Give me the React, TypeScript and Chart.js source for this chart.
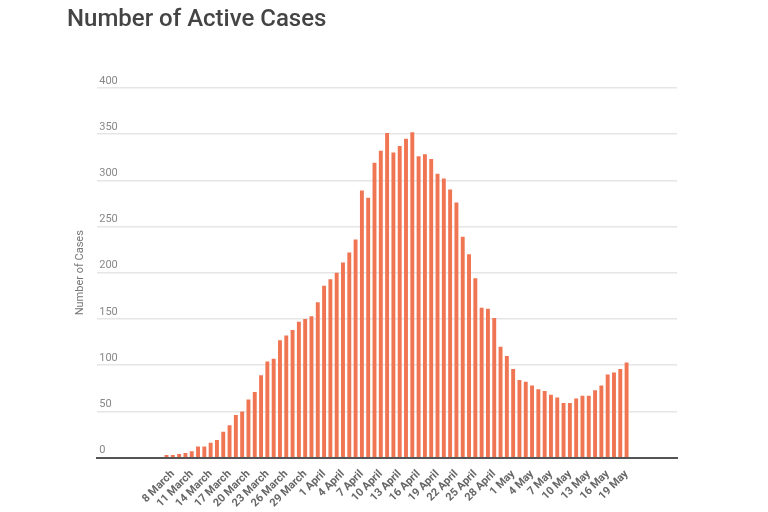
import { useEffect, useRef } from "react";
import { Chart, registerables } from "chart.js";

Chart.register(...registerables);

// One bar per day, 7 March – 19 May
const dayLabels = [
  "7 March", "8 March", "9 March", "10 March", "11 March", "12 March", "13 March",
  "14 March", "15 March", "16 March", "17 March", "18 March", "19 March", "20 March",
  "21 March", "22 March", "23 March", "24 March", "25 March", "26 March", "27 March",
  "28 March", "29 March", "30 March", "31 March",
  "1 April", "2 April", "3 April", "4 April", "5 April", "6 April", "7 April",
  "8 April", "9 April", "10 April", "11 April", "12 April", "13 April", "14 April",
  "15 April", "16 April", "17 April", "18 April", "19 April", "20 April", "21 April",
  "22 April", "23 April", "24 April", "25 April", "26 April", "27 April", "28 April",
  "29 April", "30 April",
  "1 May", "2 May", "3 May", "4 May", "5 May", "6 May", "7 May", "8 May", "9 May",
  "10 May", "11 May", "12 May", "13 May", "14 May", "15 May", "16 May", "17 May",
  "18 May", "19 May",
];

const activeCases = [
  3, 3, 4, 5, 7, 12, 12, 16, 19, 28, 35, 46, 50, 63, 71, 89, 104, 107, 127, 132,
  138, 147, 150, 153, 168, 186, 193, 200, 211, 222, 236, 289, 281, 319, 332, 351,
  330, 337, 345, 352, 326, 328, 323, 307, 302, 290, 276, 239, 220, 194, 162, 161,
  151, 120, 110, 96, 84, 82, 78, 74, 72, 68, 65, 59, 59, 64, 67, 67, 73, 78, 90,
  92, 96, 103,
];

// Dates printed under the axis (every third day)
const tickLabels = [
  "8 March", "11 March", "14 March", "17 March", "20 March", "23 March", "26 March",
  "29 March", "1 April", "4 April", "7 April", "10 April", "13 April", "16 April",
  "19 April", "22 April", "25 April", "28 April", "1 May", "4 May", "7 May", "10 May",
  "13 May", "16 May", "19 May",
];

const yMin = 0;
const yMax = 400;
const yStep = 50;

export default function App() {
  const canvasRef = useRef<HTMLCanvasElement>(null);

  useEffect(() => {
    const canvas = canvasRef.current;
    if (!canvas) return;
    const tickPositions = tickLabels.map((l) => dayLabels.indexOf(l));

    const chart = new Chart(canvas, {
      type: "bar",
      data: {
        datasets: [
          {
            label: "Active cases",
            data: activeCases.map((v, i) => ({ x: i, y: v })),
            backgroundColor: "#f07553",
            borderWidth: 0,
            barPercentage: 0.62,
            categoryPercentage: 1,
          },
        ],
      },
      options: {
        responsive: false,
        animation: false,
        devicePixelRatio: 1,
        layout: { padding: { left: 67, right: 91, top: 0, bottom: 0 } },
        plugins: {
          legend: { display: false },
          tooltip: { enabled: false },
          title: {
            display: true,
            text: "Number of Active Cases",
            align: "start",
            color: "#444444",
            font: { family: "Roboto", size: 24, weight: "500" },
            padding: { top: 6, bottom: 53 },
          },
        },
        scales: {
          x: {
            type: "linear",
            min: -11,
            max: 81,
            offset: false,
            grid: { display: false },
            border: { display: true, color: "#555555", width: 2 },
            afterBuildTicks: (scale: any) => {
              scale.ticks = tickPositions.map((v) => ({ value: v }));
            },
            ticks: {
              autoSkip: false,
              minRotation: 45,
              maxRotation: 45,
              padding: 2,
              color: "#666666",
              font: { family: "Roboto", size: 11, weight: "bold" },
              callback: (value: any) => dayLabels[Number(value)] ?? "",
            },
          },
          y: {
            min: yMin,
            max: yMax,
            border: { display: false },
            grid: { color: "#e6e6e6", lineWidth: 1.5, drawTicks: false },
            title: {
              display: true,
              text: "Number of Cases",
              color: "#777777",
              font: { family: "Roboto", size: 11 },
              padding: { top: 7, bottom: 6 },
            },
            ticks: {
              stepSize: yStep,
              mirror: true,
              padding: 2,
              labelOffset: -7,
              color: "#888888",
              font: { family: "Roboto", size: 11 },
            },
          },
        },
      },
    });

    return () => chart.destroy();
  }, []);

  return (
    <div
      style={{
        position: "fixed",
        left: 0,
        top: 0,
        width: 768,
        height: 512,
        background: "#ffffff",
      }}
    >
      <canvas
        ref={canvasRef}
        width={768}
        height={512}
        style={{ display: "block", width: 768, height: 512 }}
      />
    </div>
  );
}
